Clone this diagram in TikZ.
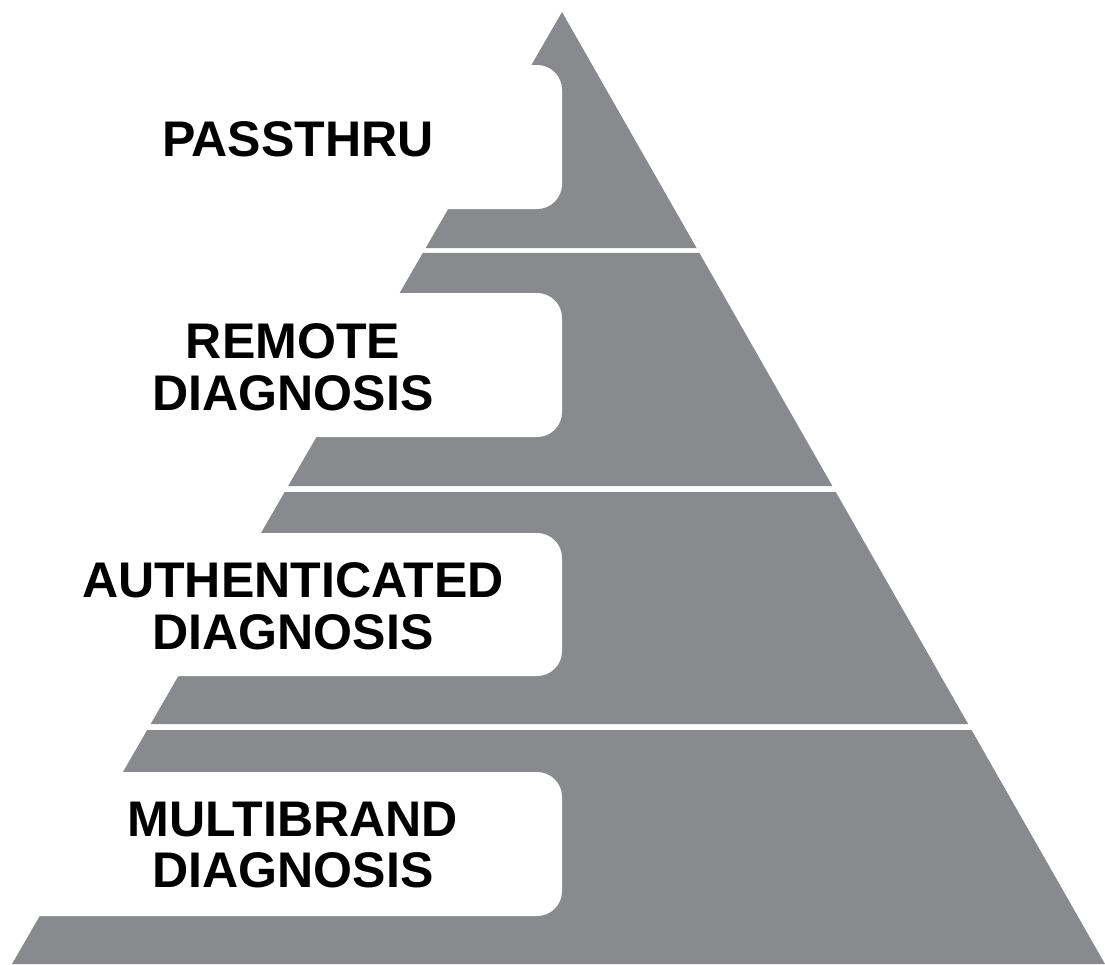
\documentclass[tikz,border=0pt]{standalone}
\usepackage{fontspec}
\setmainfont{Liberation Sans}
\usepackage{tikz}
\usetikzlibrary{calc}
\usetikzlibrary{positioning}
\definecolor{pyrgray}{RGB}{137,138,142}
\tikzset{
	tier/.style={
		fill=pyrgray, 
		draw=none},
	cutout/.style={
		fill=white, 
		rounded corners=0.5cm},
	tierlabel/.style={
		font=\fontsize{28.5}{29.5}\selectfont\bfseries, 
		align=center, 
		text=black, 
		inner sep=0pt},
}

\begin{document}
\begin{tikzpicture}
			[x=0.02cm, y=-0.02cm]
			
			\useasboundingbox (0,0) rectangle (1105,964);
			\coordinate (apex) at (562,12);
			\coordinate (bl) at (12,964);
			\coordinate (br) at (1105,964);
			
			% pyramid tiers
			\foreach \ya/\yb in {12/248, 253/486, 492/724, 730/964} {
				\pgfmathsetmacro{\ta}{(\ya-12)/952}
				\pgfmathsetmacro{\tb}{(\yb-12)/952}
				\fill[tier] ($(apex)!\ta!(bl)$) -- ($(apex)!\ta!(br)$) -- ($(apex)!\tb!(br)$) -- ($(apex)!\tb!(bl)$) -- cycle;
			}
			
			% white label fields
			\foreach \ya/\yb in {65/209, 293/437, 533/676, 772/916} {
				\fill[cutout] (-40,\ya) rectangle (562,\yb);
			}
			
			\node[tierlabel] (passthru) at (298,139) {PASSTHRU};
			\node[tierlabel] (remote)   at (293,367) {REMOTE\\DIAGNOSIS};
			\node[tierlabel] (authent)  at (293,606) {AUTHENTICATED\\DIAGNOSIS};
			\node[tierlabel] (multi)    at (293,845) {MULTIBRAND\\DIAGNOSIS};
			
\end{tikzpicture}
\end{document}
